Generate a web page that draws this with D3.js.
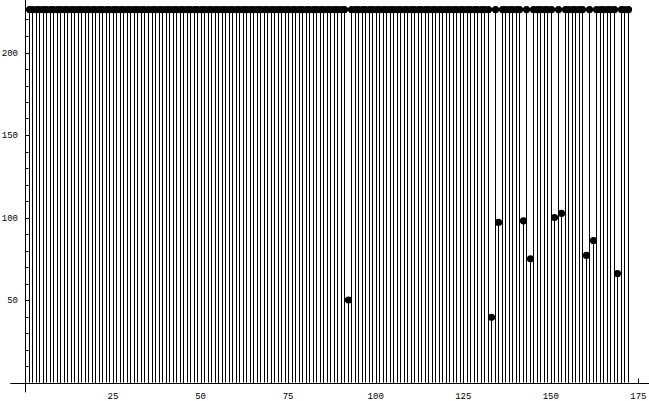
<!DOCTYPE html>
<html>
<head>
<meta charset="utf-8">
<script src="https://cdn.jsdelivr.net/npm/d3@7"></script>
<style>
  html, body { margin: 0; padding: 0; background: #fff; }
  svg { display: block; }
  text { font-family: "Liberation Mono", "DejaVu Sans Mono", monospace; font-size: 9px; fill: #000; }
</style>
</head>
<body>
<svg id="chart" width="649" height="401"></svg>
<script>
// ---- data ----
const values = [
  226,226,226,226,226,226,226,226,226,226, // 1-10
  226,226,226,226,226,226,226,226,226,226, // 11-20
  226,226,226,226,226,226,226,226,226,226, // 21-30
  226,226,226,226,226,226,226,226,226,226, // 31-40
  226,226,226,226,226,226,226,226,226,226, // 41-50
  226,226,226,226,226,226,226,226,226,226, // 51-60
  226,226,226,226,226,226,226,226,226,226, // 61-70
  226,226,226,226,226,226,226,226,226,226, // 71-80
  226,226,226,226,226,226,226,226,226,226, // 81-90
  226,50,226,226,226,226,226,226,226,226,  // 91-100
  226,226,226,226,226,226,226,226,226,226, // 101-110
  226,226,226,226,226,226,226,226,226,226, // 111-120
  226,226,226,226,226,226,226,226,226,226, // 121-130
  226,226,39.5,226,97,226,226,226,226,226, // 131-140
  226,98,226,75,226,226,226,226,226,226,   // 141-150
  100,226,102.5,226,226,226,226,226,226,77,// 151-160
  226,86,226,226,226,226,226,226,66,226,   // 161-170
  226,226                                  // 171-172
];
const xIndex = values.map((v, i) => i + 1);
const xTickValues = [25, 50, 75, 100, 125, 150, 175];
const xMinorTicks = [5,10,15,20,30,35,40,45,55,60,65,70,80,85,90,95,105,110,115,120,130,135,140,145,155,160,165,170];
const yTickValues = [50, 100, 150, 200];
const yMinorTicks = [10,20,30,40,60,70,80,90,110,120,130,140,160,170,180,190,210,220];

// ---- scales ----
const svg = d3.select("#chart");
const W = 649, H = 401;
const x = d3.scaleLinear().domain([0, 175]).range([25.4, 638.4]);
const y = d3.scaleLinear().domain([0, 200]).range([382.5, 52.5]);

const g = svg.append("g");

// stems
g.selectAll("line.stem").data(values).enter().append("line")
  .attr("class", "stem")
  .attr("x1", (d, i) => Math.round(x(xIndex[i])) + 0.5)
  .attr("x2", (d, i) => Math.round(x(xIndex[i])) + 0.5)
  .attr("y1", y(0))
  .attr("y2", d => y(d))
  .attr("stroke", "#000")
  .attr("stroke-width", 1);

// points
g.selectAll("circle.pt").data(values).enter().append("circle")
  .attr("class", "pt")
  .attr("cx", (d, i) => Math.round(x(xIndex[i])) + 0.5)
  .attr("cy", d => y(d))
  .attr("r", 3.6)
  .attr("fill", "#000");

// axes lines
const axisG = svg.append("g");
axisG.append("line")
  .attr("x1", x(-4.3)).attr("x2", W)
  .attr("y1", Math.round(y(0)) + 0.5).attr("y2", Math.round(y(0)) + 0.5)
  .attr("stroke", "#000").attr("stroke-width", 1);
axisG.append("line")
  .attr("x1", Math.round(x(0)) + 0.5).attr("x2", Math.round(x(0)) + 0.5)
  .attr("y1", y(-6)).attr("y2", 0)
  .attr("stroke", "#000").attr("stroke-width", 1);

// x ticks (upward)
const x0 = Math.round(y(0)) + 0.5;
axisG.selectAll("line.xt").data(xTickValues).enter().append("line")
  .attr("x1", d => Math.round(x(d)) + 0.5).attr("x2", d => Math.round(x(d)) + 0.5)
  .attr("y1", x0).attr("y2", x0 - 5)
  .attr("stroke", "#000");
axisG.selectAll("line.xmt").data(xMinorTicks).enter().append("line")
  .attr("x1", d => Math.round(x(d)) + 0.5).attr("x2", d => Math.round(x(d)) + 0.5)
  .attr("y1", x0).attr("y2", x0 - 3)
  .attr("stroke", "#000");
axisG.selectAll("text.xl").data(xTickValues).enter().append("text")
  .attr("x", d => x(d))
  .attr("y", 399)
  .attr("text-anchor", "middle")
  .text(d => d);

// y ticks (rightward)
const y0 = Math.round(x(0)) + 0.5;
axisG.selectAll("line.yt").data(yTickValues).enter().append("line")
  .attr("x1", y0).attr("x2", y0 + 4)
  .attr("y1", d => Math.round(y(d)) + 0.5).attr("y2", d => Math.round(y(d)) + 0.5)
  .attr("stroke", "#000");
axisG.selectAll("line.ymt").data(yMinorTicks).enter().append("line")
  .attr("x1", y0).attr("x2", y0 + 3)
  .attr("y1", d => Math.round(y(d)) + 0.5).attr("y2", d => Math.round(y(d)) + 0.5)
  .attr("stroke", "#000");
axisG.selectAll("text.yl").data(yTickValues).enter().append("text")
  .attr("x", 18)
  .attr("y", d => y(d) + 3)
  .attr("text-anchor", "end")
  .text(d => d);
</script>
</body>
</html>
